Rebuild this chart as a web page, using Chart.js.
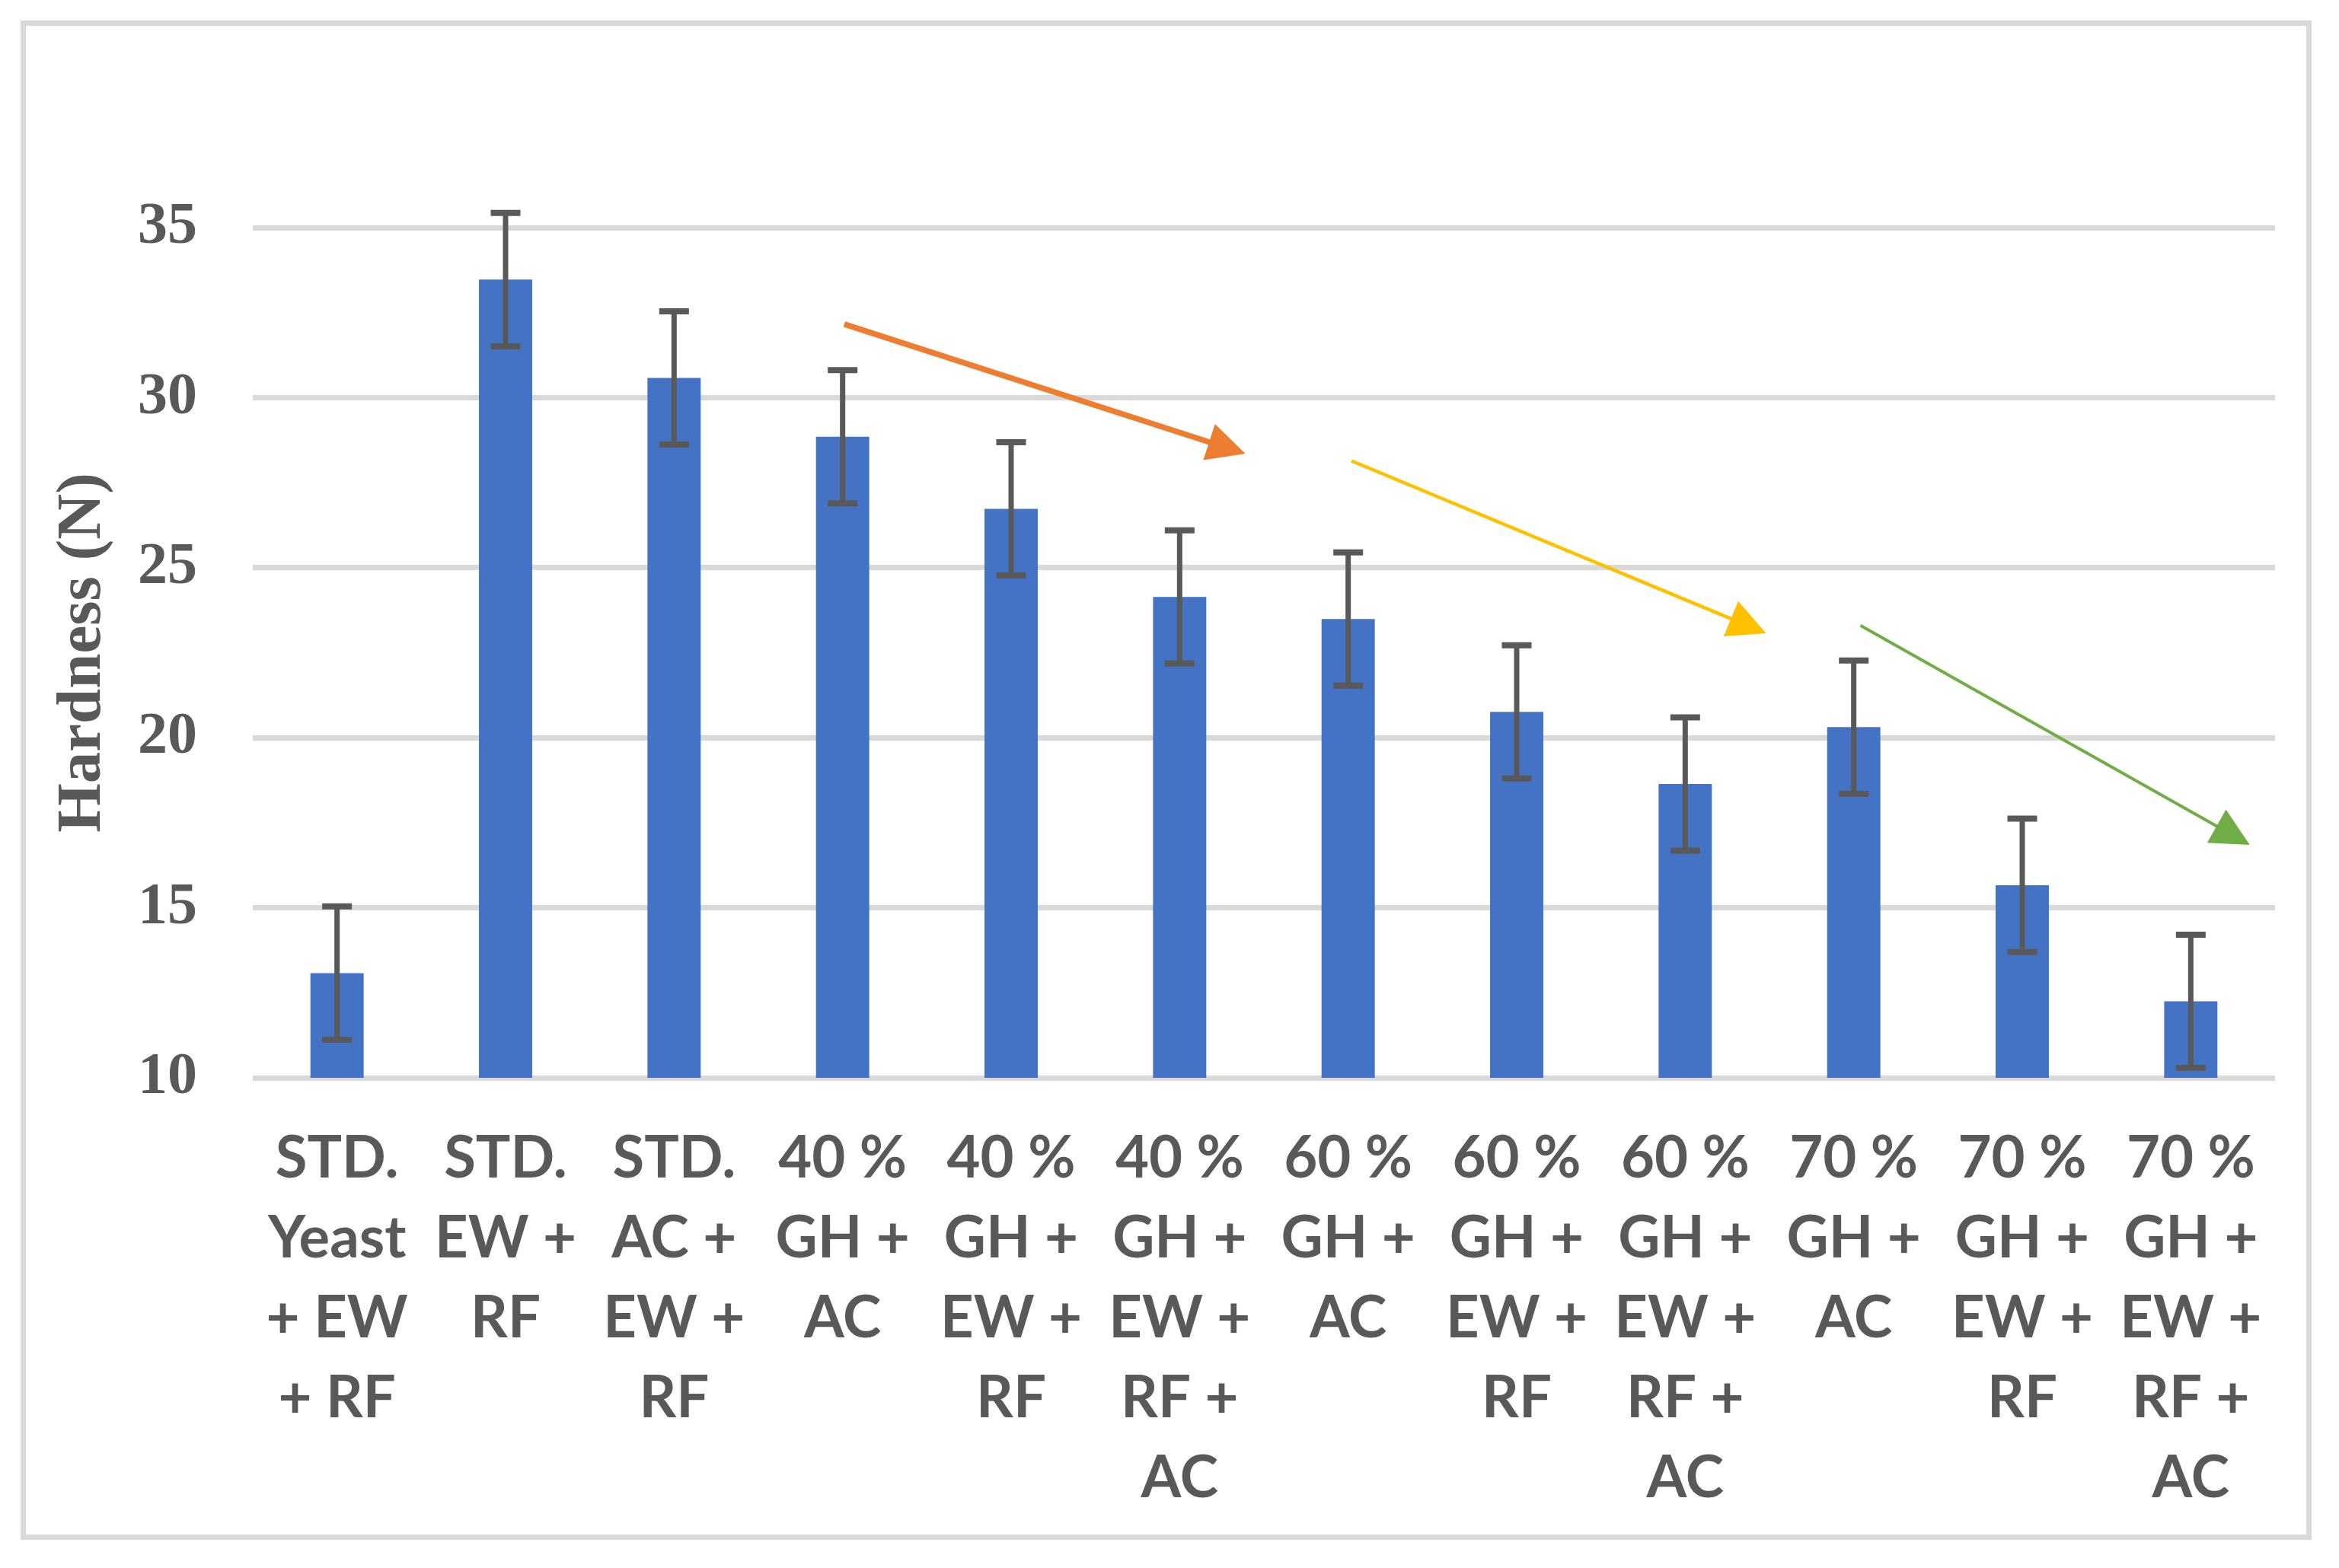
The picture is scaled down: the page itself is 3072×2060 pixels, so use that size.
<!DOCTYPE html>
<html lang="en">
<head>
  <meta charset="UTF-8" />
  <title>Hardness (N)</title>
  <script src="https://cdn.jsdelivr.net/npm/chart.js"></script>
  <style>
    html, body { margin: 0; padding: 0; background: #fff; }
    #wrap { position: relative; width: 3072px; height: 2060px; }
    #frame {
      position: absolute; left: 27px; top: 27px;
      width: 3009px; height: 1996px;
      border: 7px solid #d9d9d9; box-sizing: border-box;
      pointer-events: none;
    }
    canvas { position: absolute; left: 0; top: 0; }
  </style>
</head>
<body>
  <div id="wrap">
    <canvas id="hardChart" width="3072" height="2060"></canvas>
    <div id="frame"></div>
  </div>

  <script>
    // data
    const labels = [
      ['STD.', 'Yeast', '+ EW', '+ RF'],
      ['STD.', 'EW +', 'RF'],
      ['STD.', 'AC +', 'EW +', 'RF'],
      ['40 %', 'GH +', 'AC'],
      ['40 %', 'GH +', 'EW +', 'RF'],
      ['40 %', 'GH +', 'EW +', 'RF +', 'AC'],
      ['60 %', 'GH +', 'AC'],
      ['60 %', 'GH +', 'EW +', 'RF'],
      ['60 %', 'GH +', 'EW +', 'RF +', 'AC'],
      ['70 %', 'GH +', 'AC'],
      ['70 %', 'GH +', 'EW +', 'RF'],
      ['70 %', 'GH +', 'EW +', 'RF +', 'AC']
    ];
    const hardness = [13.08, 33.47, 30.58, 28.85, 26.73, 24.14, 23.49, 20.76, 18.64, 20.31, 15.66, 12.25];
    const errors   = [1.96, 1.96, 1.96, 1.96, 1.96, 1.96, 1.96, 1.96, 1.96, 1.96, 1.96, 1.96];
    const yTicks   = [10, 15, 20, 25, 30, 35];

    // trend arrows, [category index, hardness] start -> tip
    const arrowFrom = [[3.01, 32.16], [6.02, 28.14], [9.04, 23.30]];
    const arrowTo   = [[5.39, 28.35], [8.48, 23.07], [11.35, 16.85]];
    const arrowColors = ['#ed7d31', '#ffc000', '#70ad47'];
    const arrowLine   = [7.5, 4.5, 4];

    const GREY = '#595959';

    // error bars + arrows on top of the bars
    const extras = {
      id: 'extras',
      afterDatasetsDraw(chart) {
        const { ctx, scales: { x, y } } = chart;
        const bars = chart.getDatasetMeta(0).data;
        ctx.save();
        ctx.strokeStyle = GREY;
        bars.forEach((bar, i) => {
          const top = y.getPixelForValue(hardness[i] + errors[i]);
          const bot = y.getPixelForValue(hardness[i] - errors[i]);
          ctx.lineWidth = 7;
          ctx.beginPath();
          ctx.moveTo(bar.x, top); ctx.lineTo(bar.x, bot);
          ctx.stroke();
          ctx.lineWidth = 8;
          ctx.beginPath();
          ctx.moveTo(bar.x - 19.5, top); ctx.lineTo(bar.x + 19.5, top);
          ctx.moveTo(bar.x - 19.5, bot); ctx.lineTo(bar.x + 19.5, bot);
          ctx.stroke();
        });

        arrowFrom.forEach((p, i) => {
          const x0 = x.getPixelForValue(p[0]), y0 = y.getPixelForValue(p[1]);
          const x1 = x.getPixelForValue(arrowTo[i][0]), y1 = y.getPixelForValue(arrowTo[i][1]);
          const len = Math.hypot(x1 - x0, y1 - y0);
          const ux = (x1 - x0) / len, uy = (y1 - y0) / len;
          const head = 50, half = 25;
          const bx = x1 - ux * head, by = y1 - uy * head;
          ctx.strokeStyle = arrowColors[i];
          ctx.fillStyle = arrowColors[i];
          ctx.lineWidth = arrowLine[i];
          ctx.beginPath();
          ctx.moveTo(x0, y0);
          ctx.lineTo(bx + ux * 4, by + uy * 4);
          ctx.stroke();
          ctx.beginPath();
          ctx.moveTo(x1, y1);
          ctx.lineTo(bx - uy * half, by + ux * half);
          ctx.lineTo(bx + uy * half, by - ux * half);
          ctx.closePath();
          ctx.fill();
        });
        ctx.restore();
      }
    };

    new Chart(document.getElementById('hardChart'), {
      type: 'bar',
      data: {
        labels: labels,
        datasets: [{
          data: hardness,
          backgroundColor: '#4472c4',
          barPercentage: 0.316,
          categoryPercentage: 1
        }]
      },
      options: {
        responsive: false,
        devicePixelRatio: 1,
        animation: false,
        layout: { padding: { top: 299, right: 84, bottom: 0, left: 0 } },
        plugins: { legend: { display: false }, tooltip: { enabled: false } },
        scales: {
          x: {
            grid: { display: false, drawTicks: false },
            border: { display: false },
            ticks: {
              color: GREY,
              padding: 54,
              autoSkip: false,
              maxRotation: 0,
              minRotation: 0,
              font: { family: 'Lato', weight: 'bold', size: 76, lineHeight: '105px' }
            },
            afterFit: s => { s.height = 644; }
          },
          y: {
            min: 10,
            max: 35,
            afterBuildTicks: s => { s.ticks = yTicks.map(v => ({ value: v })); },
            grid: { color: '#d9d9d9', lineWidth: 7, drawTicks: false },
            border: { display: false },
            ticks: {
              color: GREY,
              padding: 73,
              font: { family: 'Liberation Serif', weight: 'bold', size: 78 }
            },
            title: {
              display: true,
              text: 'Hardness (N)',
              color: GREY,
              padding: { top: 60, bottom: 0 },
              font: { family: 'Liberation Serif', weight: 'bold', size: 83 }
            },
            afterFit: s => { s.width = 332; }
          }
        }
      },
      plugins: [extras]
    });
  </script>
</body>
</html>
